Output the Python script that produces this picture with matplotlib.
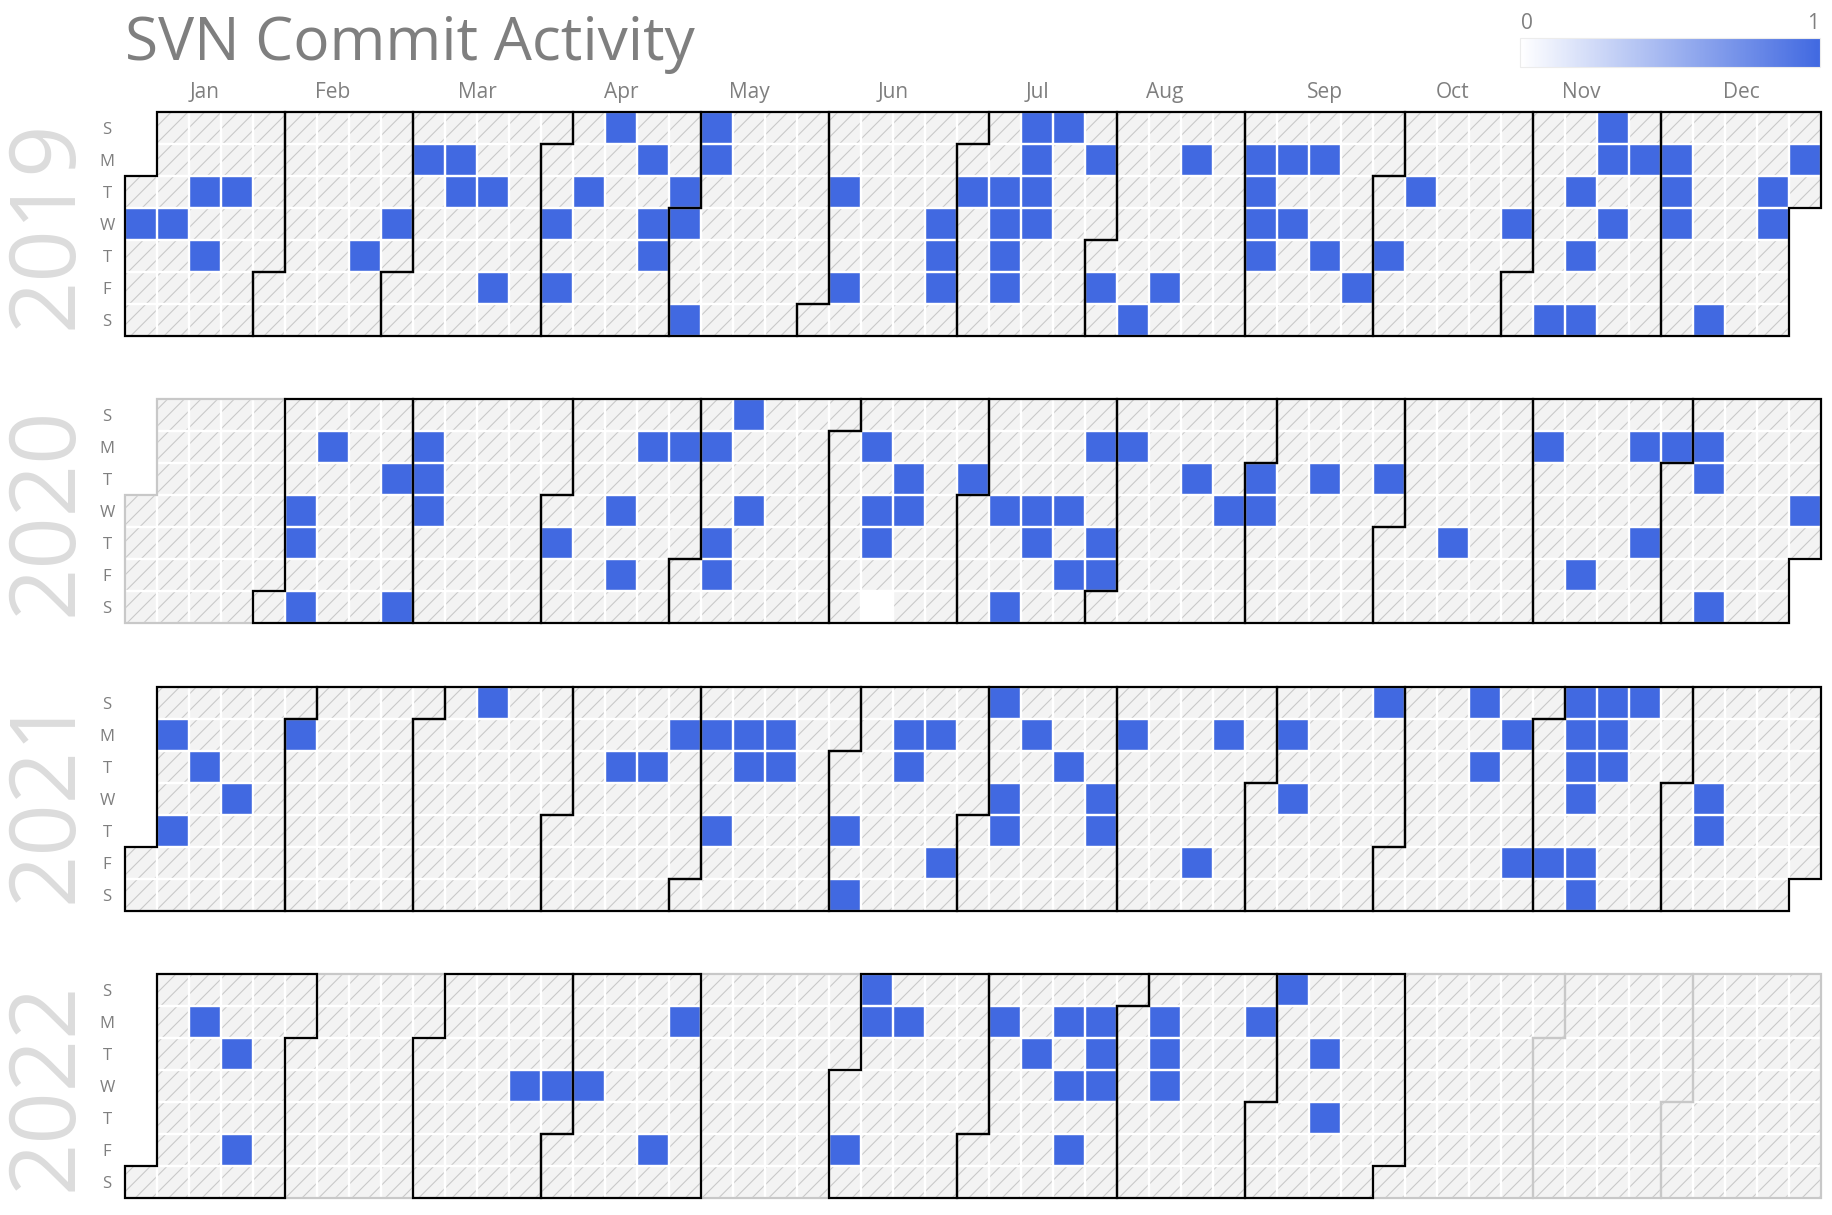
import numpy as np
import pandas as pd
import matplotlib
matplotlib.use("Agg")
import matplotlib.pyplot as plt
from matplotlib.collections import PolyCollection
from matplotlib.patches import Polygon
from matplotlib.colors import LinearSegmentedColormap, Normalize
from matplotlib.cm import ScalarMappable

plt.rcParams['font.family'] = ['Open Sans', 'DejaVu Sans']
plt.rcParams['hatch.linewidth'] = 0.8

# ---------------- data ----------------
TITLE = 'SVN Commit Activity'
YEARS = [2019, 2020, 2021, 2022]
DAY_LABELS = ['S', 'M', 'T', 'W', 'T', 'F', 'S']
MONTH_LABELS = ['Jan', 'Feb', 'Mar', 'Apr', 'May', 'Jun',
                'Jul', 'Aug', 'Sep', 'Oct', 'Nov', 'Dec']
CBAR_TICKS = ['0', '1']
VMIN, VMAX = 0, 1

# days with a commit (value 1)
commits_2019 = [
    '2019-01-02', '2019-01-09', '2019-01-15', '2019-01-17', '2019-01-22',
    '2019-02-21', '2019-02-27',
    '2019-03-04', '2019-03-11', '2019-03-12', '2019-03-19', '2019-03-22',
    '2019-04-03', '2019-04-05', '2019-04-09', '2019-04-14', '2019-04-22',
    '2019-04-24', '2019-04-25', '2019-04-30',
    '2019-05-01', '2019-05-04', '2019-05-05', '2019-05-06',
    '2019-06-04', '2019-06-07', '2019-06-26', '2019-06-27', '2019-06-28',
    '2019-07-02', '2019-07-09', '2019-07-10', '2019-07-11', '2019-07-12',
    '2019-07-14', '2019-07-15', '2019-07-16', '2019-07-17', '2019-07-21',
    '2019-07-29',
    '2019-08-02', '2019-08-10', '2019-08-16', '2019-08-19',
    '2019-09-02', '2019-09-03', '2019-09-04', '2019-09-05', '2019-09-09',
    '2019-09-11', '2019-09-16', '2019-09-19', '2019-09-27',
    '2019-10-03', '2019-10-08', '2019-10-30',
    '2019-11-09', '2019-11-12', '2019-11-14', '2019-11-16', '2019-11-17',
    '2019-11-18', '2019-11-20', '2019-11-25',
    '2019-12-02', '2019-12-03', '2019-12-04', '2019-12-14', '2019-12-24',
    '2019-12-25', '2019-12-30',
]
commits_2020 = [
    '2020-02-05', '2020-02-06', '2020-02-08', '2020-02-10', '2020-02-25',
    '2020-02-29',
    '2020-03-02', '2020-03-03', '2020-03-04',
    '2020-04-02', '2020-04-15', '2020-04-17', '2020-04-20', '2020-04-27',
    '2020-05-04', '2020-05-07', '2020-05-08', '2020-05-10', '2020-05-13',
    '2020-06-08', '2020-06-10', '2020-06-11', '2020-06-16', '2020-06-17',
    '2020-06-30',
    '2020-07-08', '2020-07-11', '2020-07-15', '2020-07-16', '2020-07-22',
    '2020-07-24', '2020-07-27', '2020-07-30', '2020-07-31',
    '2020-08-03', '2020-08-18', '2020-08-26',
    '2020-09-01', '2020-09-02', '2020-09-15', '2020-09-29',
    '2020-10-15',
    '2020-11-02', '2020-11-13', '2020-11-23', '2020-11-26', '2020-11-30',
    '2020-12-07', '2020-12-08', '2020-12-12', '2020-12-30',
]
commits_2021 = [
    '2021-01-04', '2021-01-07', '2021-01-12', '2021-01-20',
    '2021-02-01',
    '2021-03-14',
    '2021-04-13', '2021-04-20', '2021-04-26',
    '2021-05-03', '2021-05-06', '2021-05-10', '2021-05-11', '2021-05-17',
    '2021-05-18',
    '2021-06-03', '2021-06-05', '2021-06-14', '2021-06-15', '2021-06-21',
    '2021-06-25',
    '2021-07-04', '2021-07-07', '2021-07-08', '2021-07-12', '2021-07-20',
    '2021-07-28', '2021-07-29',
    '2021-08-02', '2021-08-20', '2021-08-23',
    '2021-09-06', '2021-09-08', '2021-09-26',
    '2021-10-17', '2021-10-19', '2021-10-25', '2021-10-29',
    '2021-11-05', '2021-11-07', '2021-11-08', '2021-11-09', '2021-11-10',
    '2021-11-12', '2021-11-13', '2021-11-14', '2021-11-15', '2021-11-16',
    '2021-11-21',
    '2021-12-08', '2021-12-09',
]
commits_2022 = [
    '2022-01-10', '2022-01-18', '2022-01-21',
    '2022-03-23', '2022-03-30',
    '2022-04-06', '2022-04-22', '2022-04-25',
    '2022-06-03', '2022-06-05', '2022-06-06', '2022-06-13',
    '2022-07-04', '2022-07-12', '2022-07-18', '2022-07-20', '2022-07-22',
    '2022-07-25', '2022-07-26', '2022-07-27',
    '2022-08-08', '2022-08-09', '2022-08-10', '2022-08-29',
    '2022-09-04', '2022-09-13', '2022-09-15',
]
# days recorded with zero commits
zero_days = ['2020-06-13']

# ---------------- styling ----------------
BLUE = 'royalblue'
FILL = '#f3f3f3'
HATCH_COLOR = '#c9c9c9'
TEXT_GRAY = '#7f7f7f'
YEAR_GRAY = '#dcdcdc'
EMPTY_MONTH_EDGE = '#c8c8c8'

cmap = LinearSegmentedColormap.from_list('wb', ['white', BLUE]).with_extremes(bad='none')
norm = Normalize(VMIN, VMAX)

all_commits = commits_2019 + commits_2020 + commits_2021 + commits_2022
series = pd.concat([
    pd.Series(1.0, index=pd.to_datetime(all_commits)),
    pd.Series(0.0, index=pd.to_datetime(zero_days)),
]).sort_index()

W, H = 1833, 1215
fig = plt.figure(figsize=(W / 100, H / 100), dpi=100)

grid_left, grid_right = 125, 1821
cell = (grid_right - grid_left) / 53.0
first_top = 112
year_step = 287.3

for i, year in enumerate(YEARS):
    top = first_top + i * year_step
    bottom = top + 7 * cell
    ax = fig.add_axes([grid_left / W, 1 - bottom / H,
                       (grid_right - grid_left) / W, 7 * cell / H])

    days = pd.date_range(f'{year}-01-01', f'{year}-12-31', freq='D')
    rows = (days.dayofweek.values + 1) % 7
    offset = rows[0]
    cols = (days.dayofyear.values - 1 + offset) // 7
    vals = series.reindex(days).values
    ncols = cols.max() + 1

    grid = np.full((7, ncols), np.nan)
    grid[rows, cols] = vals

    verts = [[(c, r), (c + 1, r), (c + 1, r + 1), (c, r + 1)] for c, r in zip(cols, rows)]
    bg = PolyCollection(verts, facecolors=FILL, edgecolors=HATCH_COLOR,
                        linewidths=0, hatch='//', zorder=1)
    ax.add_collection(bg)

    ax.pcolormesh(np.arange(ncols + 1), np.arange(8), np.ma.masked_invalid(grid),
                  cmap=cmap, norm=norm, zorder=2)

    gridlines = PolyCollection(verts, facecolors='none', edgecolors='white',
                               linewidths=1.6, zorder=3)
    ax.add_collection(gridlines)

    months = days.month.values
    for m in range(1, 13):
        sel = months == m
        mc, mr = cols[sel], rows[sel]
        c0, r0, c1, r1 = mc[0], mr[0], mc[-1], mr[-1]
        outline = [(c0 + 1, 0), (c1 + 1, 0), (c1 + 1, r1 + 1), (c1, r1 + 1),
                   (c1, 7), (c0, 7), (c0, r0), (c0 + 1, r0)]
        has_data = np.isfinite(vals[sel]).any()
        ax.add_patch(Polygon(outline, closed=True, fill=False,
                             edgecolor='black' if has_data else EMPTY_MONTH_EDGE,
                             linewidth=1.6, joinstyle='miter',
                             zorder=5 if has_data else 4, clip_on=False))
        if i == 0:
            ax.text((c0 + c1 + 1) / 2.0, -0.6, MONTH_LABELS[m - 1],
                    ha='center', va='center', fontsize=15, color=TEXT_GRAY)

    ax.set_xlim(0, 53)
    ax.set_ylim(7, 0)
    ax.set_xticks([])
    ax.set_yticks(np.arange(7) + 0.5)
    ax.set_yticklabels(DAY_LABELS, ha='center', fontsize=12, color=TEXT_GRAY)
    ax.tick_params(axis='y', length=0, pad=13)
    for sp in ax.spines.values():
        sp.set_visible(False)
    ax.patch.set_alpha(0)

    ax.text((48 - grid_left) / (grid_right - grid_left), 0.5, str(year),
            transform=ax.transAxes, rotation=90, ha='center', va='center',
            fontsize=66, color=YEAR_GRAY)

fig.text(grid_left / W, 1 - 44 / H, TITLE, ha='left', va='center',
         fontsize=43.5, color=TEXT_GRAY)

cax = fig.add_axes([1520 / W, 1 - 67 / H, 300 / W, 29 / H])
cb = fig.colorbar(ScalarMappable(norm=norm, cmap=cmap), cax=cax, orientation='horizontal')
cb.set_ticks([])
cb.outline.set_edgecolor('#ececec')
cb.outline.set_linewidth(0.8)
cax.text(0.023, 1.5, CBAR_TICKS[0], transform=cax.transAxes, ha='center',
         va='center', fontsize=15, color=TEXT_GRAY)
cax.text(0.977, 1.5, CBAR_TICKS[1], transform=cax.transAxes, ha='center',
         va='center', fontsize=15, color=TEXT_GRAY)

fig.savefig('out.png', dpi=100)
